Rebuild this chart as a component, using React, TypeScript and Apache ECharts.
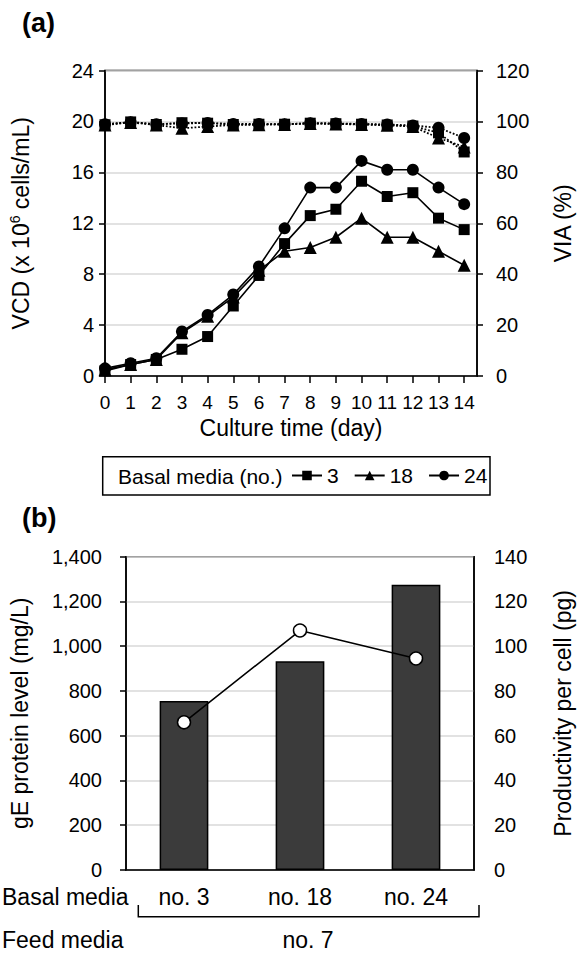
import React, { useEffect, useRef } from "react";
import * as echarts from "echarts";

const days = [0, 1, 2, 3, 4, 5, 6, 7, 8, 9, 10, 11, 12, 13, 14];
const mediaNames = ["3", "18", "24"];
const vcd3 = [0.4, 0.9, 1.3, 2.1, 3.1, 5.5, 7.9, 10.4, 12.6, 13.1, 15.3, 14.1, 14.4, 12.4, 11.5];
const vcd18 = [0.5, 0.9, 1.3, 3.4, 4.7, 6.2, 8.3, 9.8, 10.1, 10.9, 12.4, 10.9, 10.9, 9.8, 8.7];
const vcd24 = [0.6, 1.0, 1.4, 3.5, 4.8, 6.4, 8.6, 11.6, 14.8, 14.8, 16.9, 16.2, 16.2, 14.8, 13.5];
const via3 = [98.7, 99.8, 98.8, 99.5, 99.3, 98.8, 98.9, 98.9, 99.3, 99.1, 98.9, 98.6, 98.2, 95.5, 88.0];
const via18 = [98.6, 99.6, 98.6, 97.3, 98.0, 98.6, 98.7, 98.8, 99.2, 99.0, 98.8, 98.5, 98.0, 93.5, 90.0];
const via24 = [98.9, 99.7, 98.9, 99.2, 99.4, 99.0, 99.0, 98.9, 99.3, 99.2, 99.0, 98.8, 98.4, 97.5, 93.5];

const basalCats = ["no. 3", "no. 18", "no. 24"];
const geLevel = [755, 933, 1275];
const productivity = [66, 107, 94.5];

const FONT = '"Liberation Sans", Arial, sans-serif';
const BLACK = "#000";
const GRID_GRAY = "#d9d9d9";

const symbols = ["rect", "triangle", "circle"];
const symbolSizes = [11, 13, 12];

export default function App() {
  const ref = useRef<HTMLDivElement>(null);
  useEffect(() => {
    if (!ref.current) return;
    const chart = echarts.init(ref.current, null, { renderer: "svg" });
    const vcdSets = [vcd3, vcd18, vcd24];
    const viaSets = [via3, via18, via24];
    const pair = (arr: number[]) => days.map((d, i) => [d, arr[i]]);

    const vcdSeries = vcdSets.map((s, i) => ({
      name: mediaNames[i],
      type: "line",
      xAxisIndex: 0,
      yAxisIndex: 0,
      data: pair(s),
      symbol: symbols[i],
      symbolSize: symbolSizes[i],
      itemStyle: { color: BLACK },
      lineStyle: { color: BLACK, width: 1.6 },
      z: 3,
    }));
    const viaSeries = viaSets.map((s, i) => ({
      name: "VIA " + mediaNames[i],
      type: "line",
      xAxisIndex: 0,
      yAxisIndex: 1,
      data: pair(s),
      symbol: symbols[i],
      symbolSize: symbolSizes[i],
      itemStyle: { color: BLACK },
      lineStyle: { color: BLACK, width: 1.8, type: "dotted" },
      z: 3,
    }));

    const axisLine = { show: true, lineStyle: { color: BLACK, width: 1.5 } };
    const tick = { show: true, inside: false, length: 6, lineStyle: { color: BLACK, width: 1.5 } };
    const label = (size: number, margin: number) => ({
      color: BLACK,
      fontSize: size,
      fontFamily: FONT,
      margin,
    });
    const nameStyle = { color: BLACK, fontSize: 23, fontFamily: FONT };

    const option: any = {
      animation: false,
      textStyle: { fontFamily: FONT },
      grid: [
        { left: 103, top: 70.5, width: 388, height: 305.5, show: true, borderColor: BLACK, borderWidth: 1.5, containLabel: false },
        { left: 117.3, top: 556.7, width: 376, height: 313.3, show: true, borderColor: BLACK, borderWidth: 1.5, containLabel: false },
      ],
      legend: {
        data: mediaNames,
        left: 291,
        top: 465,
        itemWidth: 30,
        itemHeight: 12,
        itemGap: 15,
        padding: 0,
        selectedMode: false,
        textStyle: { color: BLACK, fontSize: 21, fontFamily: FONT },
      },
      xAxis: [
        {
          type: "value",
          gridIndex: 0,
          min: 0,
          max: 14.5,
          axisLine,
          axisTick: { ...tick, length: 7, customValues: days },
          axisLabel: { ...label(19, 17), customValues: days },
          splitLine: { show: false },
          name: "Culture time (day)",
          nameLocation: "middle",
          nameGap: 40,
          nameTextStyle: nameStyle,
        },
        {
          type: "category",
          gridIndex: 1,
          data: basalCats,
          axisLine,
          axisTick: { show: false },
          axisLabel: label(23, 15),
          splitLine: { show: false },
        },
      ],
      yAxis: [
        {
          type: "value",
          gridIndex: 0,
          min: 0,
          max: 24,
          interval: 4,
          position: "left",
          axisLine,
          axisTick: tick,
          axisLabel: label(20, 11),
          splitLine: { show: true, lineStyle: { color: GRID_GRAY, width: 1.5 } },
          name: "{n|VCD (x 10}{sup|6}{n| cells/mL)}",
          nameLocation: "middle",
          nameRotate: 90,
          nameGap: 71,
          nameTextStyle: {
            ...nameStyle,
            rich: {
              n: { fontSize: 23, fontFamily: FONT, color: BLACK, lineHeight: 26 },
              sup: { fontSize: 14, fontFamily: FONT, color: BLACK, lineHeight: 14, verticalAlign: "top" },
            },
          },
        },
        {
          type: "value",
          gridIndex: 0,
          min: 0,
          max: 120,
          interval: 20,
          position: "right",
          axisLine,
          axisTick: tick,
          axisLabel: label(20, 19),
          splitLine: { show: false },
          name: "VIA (%)",
          nameLocation: "middle",
          nameRotate: 90,
          nameGap: 74,
          nameTextStyle: nameStyle,
        },
        {
          type: "value",
          gridIndex: 1,
          min: 0,
          max: 1400,
          interval: 200,
          position: "left",
          axisLine,
          axisTick: tick,
          axisLabel: {
            ...label(20, 24),
            formatter: (v: number) => v.toLocaleString("en-US"),
          },
          splitLine: { show: true, lineStyle: { color: GRID_GRAY, width: 1.5 } },
          name: "gE protein level (mg/L)",
          nameLocation: "middle",
          nameRotate: 90,
          nameGap: 95,
          nameTextStyle: nameStyle,
        },
        {
          type: "value",
          gridIndex: 1,
          min: 0,
          max: 140,
          interval: 20,
          position: "right",
          axisLine,
          axisTick: { show: false },
          axisLabel: label(20, 20),
          splitLine: { show: false },
          name: "Productivity per cell (pg)",
          nameLocation: "middle",
          nameRotate: 90,
          nameGap: 77,
          nameTextStyle: nameStyle,
        },
      ],
      series: [
        ...viaSeries,
        ...vcdSeries,
        {
          name: "gE protein level",
          type: "bar",
          xAxisIndex: 1,
          yAxisIndex: 2,
          data: geLevel,
          barWidth: "42%",
          itemStyle: { color: "#3b3b3b", borderColor: BLACK, borderWidth: 1.5 },
          z: 2,
        },
        {
          name: "Productivity per cell",
          type: "line",
          xAxisIndex: 1,
          yAxisIndex: 3,
          data: productivity,
          symbol: "circle",
          symbolSize: 13,
          itemStyle: { color: "#fff", borderColor: BLACK, borderWidth: 1.5 },
          lineStyle: { color: BLACK, width: 1.6 },
          z: 4,
        },
      ],
      graphic: [
        {
          type: "text",
          left: 22,
          top: 9,
          style: { text: "(a)", fontSize: 27, fontWeight: "bold", fontFamily: FONT, fill: BLACK },
        },
        {
          type: "text",
          left: 22,
          top: 504,
          style: { text: "(b)", fontSize: 27, fontWeight: "bold", fontFamily: FONT, fill: BLACK },
        },
        {
          type: "rect",
          shape: { x: 102.7, y: 456.7, width: 387.3, height: 38.3 },
          style: { fill: "none", stroke: BLACK, lineWidth: 1.5 },
        },
        {
          type: "text",
          x: 118,
          y: 476,
          style: { text: "Basal media (no.)", fontSize: 21, fontFamily: FONT, fill: BLACK, verticalAlign: "middle" },
        },
        {
          type: "text",
          x: 2,
          y: 897,
          style: { text: "Basal media", fontSize: 23, fontFamily: FONT, fill: BLACK, verticalAlign: "middle" },
        },
        {
          type: "text",
          x: 2,
          y: 940,
          style: { text: "Feed media", fontSize: 23, fontFamily: FONT, fill: BLACK, verticalAlign: "middle" },
        },
        {
          type: "text",
          x: 308,
          y: 940,
          style: { text: "no. 7", fontSize: 23, fontFamily: FONT, fill: BLACK, align: "center", verticalAlign: "middle" },
        },
        {
          type: "polyline",
          shape: { points: [[138.3, 905], [138.3, 916.7], [479, 916.7], [479, 905]] },
          style: { fill: "none", stroke: BLACK, lineWidth: 1.5 },
        },
      ],
    };
    chart.setOption(option);
    return () => chart.dispose();
  }, []);
  return (
    <div
      ref={ref}
      style={{ position: "fixed", left: 0, top: 0, width: 582, height: 955, background: "#fff" }}
    />
  );
}
